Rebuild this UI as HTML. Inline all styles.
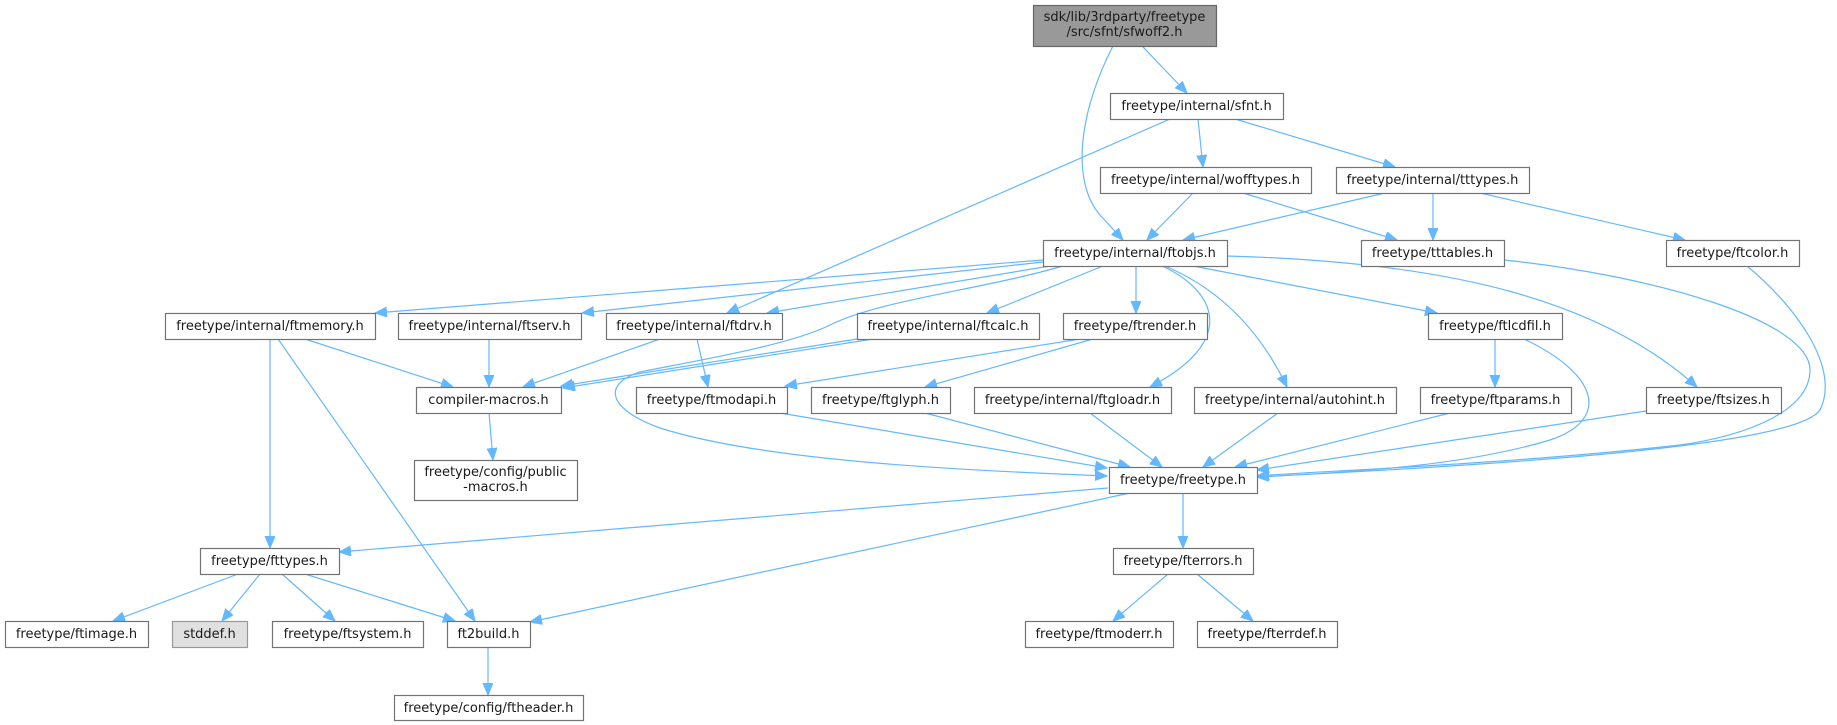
<!DOCTYPE html>
<html><head><meta charset="utf-8"><style>
html,body{margin:0;padding:0;background:#fff;}
svg{display:block;}
text{font-family:"DejaVu Sans","Liberation Sans",sans-serif;font-size:13px;fill:#1a1a1a;text-anchor:middle;}
.n{fill:#fff;stroke:#737373;stroke-width:1.2;}
.e{fill:none;stroke:#63b8ff;stroke-width:1.2;marker-end:url(#a);}
</style></head><body>
<svg width="1837" height="725" viewBox="0 0 1837 725" xmlns="http://www.w3.org/2000/svg">
<defs>
<marker id="a" markerUnits="userSpaceOnUse" markerWidth="13" markerHeight="11" refX="12" refY="5" orient="auto">
<path d="M0,0 L12,5 L0,10 z" fill="#63b8ff" stroke="#63b8ff" stroke-width="1"/>
</marker>
</defs>
<g>
<path class="e" d="M1142,46 L1187,93"/>
<path class="e" d="M1113,46 C1080,110 1070,180 1100,215 Q1112,228 1123,240"/>
<path class="e" d="M1170,119 L727,313"/>
<path class="e" d="M1198,119 L1203,167"/>
<path class="e" d="M1235,119 L1395,167"/>
<path class="e" d="M1193,193 L1147,240"/>
<path class="e" d="M1243,193 L1397,240"/>
<path class="e" d="M1385,193 L1183,240"/>
<path class="e" d="M1433,193 L1433,240"/>
<path class="e" d="M1480,193 L1685,240"/>
<path class="e" d="M1043,260 L375,313"/>
<path class="e" d="M1043,262 L582,313"/>
<path class="e" d="M1050,266 L767,313"/>
<path class="e" d="M1103,266 L987,313"/>
<path class="e" d="M1136,266 L1136,313"/>
<path class="e" d="M1162,266 C1215,290 1240,340 1150,387"/>
<path class="e" d="M1165,266 C1210,285 1255,320 1287,387"/>
<path class="e" d="M1193,266 L1437,313"/>
<path class="e" d="M1227,256 C1450,262 1600,300 1697,387"/>
<path class="e" d="M1063,266 C980,290 880,300 830,325 C790,345 700,360 640,372 C600,385 610,410 660,428 C760,460 950,470 1107,476"/>
<path class="e" d="M857,339 L561,386"/>
<path class="e" d="M873,339 L563,388"/>
<path class="e" d="M270,339 L270,548"/>
<path class="e" d="M278,339 L475,621"/>
<path class="e" d="M305,339 L453,387"/>
<path class="e" d="M489,339 L489,387"/>
<path class="e" d="M660,339 L523,387"/>
<path class="e" d="M697,339 L708,387"/>
<path class="e" d="M1080,339 L785,386"/>
<path class="e" d="M1093,339 L925,387"/>
<path class="e" d="M1495,339 L1495,387"/>
<path class="e" d="M1524,339 C1600,375 1610,420 1550,440 C1450,470 1320,473 1257,477"/>
<path class="e" d="M489,413 L493,460"/>
<path class="e" d="M780,413 L1107,468"/>
<path class="e" d="M925,413 L1130,467"/>
<path class="e" d="M1090,413 L1162,467"/>
<path class="e" d="M1278,413 L1203,467"/>
<path class="e" d="M1450,413 L1235,467"/>
<path class="e" d="M1646,411 L1257,470"/>
<path class="e" d="M1504,260 C1650,275 1810,320 1810,370 C1810,410 1750,435 1680,445 C1500,465 1300,472 1257,476"/>
<path class="e" d="M1747,266 C1800,310 1840,370 1820,410 C1800,440 1600,460 1257,477"/>
<path class="e" d="M1108,488 L339,552"/>
<path class="e" d="M1130,493 L530,622"/>
<path class="e" d="M1183,493 L1183,548"/>
<path class="e" d="M1168,574 L1113,621"/>
<path class="e" d="M1197,574 L1253,621"/>
<path class="e" d="M238,574 L113,621"/>
<path class="e" d="M260,574 L222,621"/>
<path class="e" d="M282,574 L335,621"/>
<path class="e" d="M305,574 L455,621"/>
<path class="e" d="M488,647 L488,695"/>
</g>
<g>
<rect x="1033.5" y="5.5" width="183" height="41" fill="#999999" stroke="#666666" stroke-width="1.2"/>
<text x="1124.5" y="21">sdk/lib/3rdparty/freetype</text>
<text x="1124.5" y="36">/src/sfnt/sfwoff2.h</text>

<rect class="n" x="1110.5" y="93.5" width="173" height="26"/>
<text x="1196.5" y="110">freetype/internal/sfnt.h</text>

<rect class="n" x="1100.5" y="167.5" width="211" height="26"/>
<text x="1205.5" y="184">freetype/internal/wofftypes.h</text>

<rect class="n" x="1336.5" y="167.5" width="193" height="26"/>
<text x="1432.5" y="184">freetype/internal/tttypes.h</text>

<rect class="n" x="1043.5" y="240.5" width="184" height="26"/>
<text x="1135" y="257">freetype/internal/ftobjs.h</text>

<rect class="n" x="1361.5" y="240.5" width="143" height="26"/>
<text x="1432.5" y="257">freetype/tttables.h</text>

<rect class="n" x="1666.5" y="240.5" width="133" height="26"/>
<text x="1732.5" y="257">freetype/ftcolor.h</text>

<rect class="n" x="165.5" y="313.5" width="210" height="26"/>
<text x="270" y="330">freetype/internal/ftmemory.h</text>

<rect class="n" x="398.5" y="313.5" width="183" height="26"/>
<text x="489.5" y="330">freetype/internal/ftserv.h</text>

<rect class="n" x="606.5" y="313.5" width="176" height="26"/>
<text x="694" y="330">freetype/internal/ftdrv.h</text>

<rect class="n" x="857.5" y="313.5" width="182" height="26"/>
<text x="948" y="330">freetype/internal/ftcalc.h</text>

<rect class="n" x="1063.5" y="313.5" width="144" height="26"/>
<text x="1135" y="330">freetype/ftrender.h</text>

<rect class="n" x="1428.5" y="313.5" width="134" height="26"/>
<text x="1495" y="330">freetype/ftlcdfil.h</text>

<rect class="n" x="416.5" y="387.5" width="145" height="26"/>
<text x="488.5" y="404">compiler-macros.h</text>

<rect class="n" x="636.5" y="387.5" width="151" height="26"/>
<text x="711.5" y="404">freetype/ftmodapi.h</text>

<rect class="n" x="811.5" y="387.5" width="139" height="26"/>
<text x="880.5" y="404">freetype/ftglyph.h</text>

<rect class="n" x="974.5" y="387.5" width="197" height="26"/>
<text x="1072.5" y="404">freetype/internal/ftgloadr.h</text>

<rect class="n" x="1194.5" y="387.5" width="202" height="26"/>
<text x="1295" y="404">freetype/internal/autohint.h</text>

<rect class="n" x="1420.5" y="387.5" width="151" height="26"/>
<text x="1495.5" y="404">freetype/ftparams.h</text>

<rect class="n" x="1646.5" y="387.5" width="135" height="26"/>
<text x="1713.5" y="404">freetype/ftsizes.h</text>

<rect class="n" x="414.5" y="460.5" width="163" height="40"/>
<text x="495.5" y="476">freetype/config/public</text>
<text x="495.5" y="491">-macros.h</text>

<rect class="n" x="1109.5" y="467.5" width="148" height="26"/>
<text x="1183" y="484">freetype/freetype.h</text>

<rect class="n" x="200.5" y="548.5" width="139" height="26"/>
<text x="269.5" y="565">freetype/fttypes.h</text>

<rect class="n" x="1113.5" y="548.5" width="140" height="26"/>
<text x="1183" y="565">freetype/fterrors.h</text>

<rect class="n" x="5.5" y="621.5" width="143" height="26"/>
<text x="76.5" y="638">freetype/ftimage.h</text>

<rect x="172.5" y="621.5" width="75" height="26" fill="#e0e0e0" stroke="#999999" stroke-width="1.2"/>
<text x="209.5" y="638">stddef.h</text>

<rect class="n" x="272.5" y="621.5" width="151" height="26"/>
<text x="347.5" y="638">freetype/ftsystem.h</text>

<rect class="n" x="447.5" y="621.5" width="83" height="26"/>
<text x="488.5" y="638">ft2build.h</text>

<rect class="n" x="1025.5" y="621.5" width="148" height="26"/>
<text x="1099" y="638">freetype/ftmoderr.h</text>

<rect class="n" x="1197.5" y="621.5" width="140" height="26"/>
<text x="1267" y="638">freetype/fterrdef.h</text>

<rect class="n" x="394.5" y="695.5" width="189" height="25"/>
<text x="488.5" y="712">freetype/config/ftheader.h</text>
</g>
</svg>
</body></html>
